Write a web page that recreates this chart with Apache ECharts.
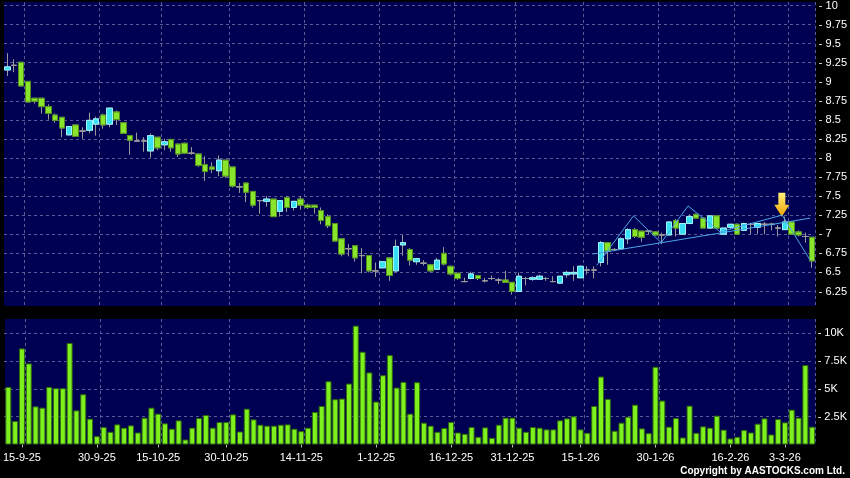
<!DOCTYPE html>
<html><head><meta charset="utf-8">
<script src="https://cdn.jsdelivr.net/npm/echarts@6/dist/echarts.min.js"></script>
<style>html,body{margin:0;padding:0;background:#000;}#c{width:850px;height:478px;}</style>
</head><body><div id="c"></div>
<script>
const dates = [
'11-9-25','12-9-25','15-9-25','16-9-25','17-9-25','18-9-25','19-9-25','22-9-25','23-9-25','24-9-25','25-9-25','26-9-25','29-9-25','30-9-25',
'2-10-25','3-10-25','6-10-25','8-10-25','9-10-25','10-10-25','13-10-25','14-10-25','15-10-25','16-10-25','17-10-25','20-10-25','21-10-25','22-10-25','23-10-25','24-10-25','27-10-25','28-10-25','30-10-25','31-10-25',
'3-11-25','4-11-25','5-11-25','6-11-25','7-11-25','10-11-25','11-11-25','12-11-25','13-11-25','14-11-25','17-11-25','18-11-25','19-11-25','20-11-25','21-11-25','24-11-25','25-11-25','26-11-25','27-11-25','28-11-25',
'1-12-25','2-12-25','3-12-25','4-12-25','5-12-25','8-12-25','9-12-25','10-12-25','11-12-25','12-12-25','15-12-25','16-12-25','17-12-25','18-12-25','19-12-25','22-12-25','23-12-25','24-12-25','29-12-25','30-12-25','31-12-25',
'2-1-26','5-1-26','6-1-26','7-1-26','8-1-26','9-1-26','12-1-26','13-1-26','14-1-26','15-1-26','16-1-26','19-1-26','20-1-26','21-1-26','22-1-26','23-1-26','26-1-26','27-1-26','28-1-26','29-1-26','30-1-26',
'2-2-26','3-2-26','4-2-26','5-2-26','6-2-26','9-2-26','10-2-26','11-2-26','12-2-26','13-2-26','16-2-26','20-2-26','23-2-26','24-2-26','25-2-26','26-2-26','27-2-26',
'2-3-26','3-3-26','4-3-26','5-3-26','6-3-26','9-3-26'];

const labelDates = ['15-9-25','30-9-25','15-10-25','30-10-25','14-11-25','1-12-25','16-12-25','31-12-25','15-1-26','30-1-26','16-2-26','3-3-26'];

const openP = [9.15,9.21,9.25,9.00,8.78,8.78,8.67,8.56,8.53,8.30,
8.43,8.35,8.36,8.44,8.56,8.44,8.60,8.46,8.29,8.22,
8.22,8.09,8.27,8.17,8.24,8.18,8.19,8.06,8.05,7.91,
7.88,7.83,7.97,7.88,7.62,7.67,7.56,7.44,7.43,7.46,
7.30,7.48,7.35,7.46,7.38,7.38,7.31,7.23,7.14,6.94,
6.81,6.85,6.72,6.72,6.52,6.56,6.69,6.52,6.86,6.80,
6.64,6.62,6.60,6.54,6.75,6.58,6.49,6.38,6.42,6.46,
6.39,6.42,6.40,6.40,6.37,6.25,6.42,6.41,6.41,6.42,
6.38,6.36,6.47,6.48,6.43,6.53,6.53,6.63,6.89,6.80,
6.81,6.94,7.06,7.04,7.04,7.03,6.99,6.99,7.18,7.00,
7.14,7.26,7.21,7.08,7.24,7.00,7.09,7.13,7.05,7.13,
7.09,7.13,7.13,7.08,7.06,7.16,7.03,6.97,6.96];

const highP = [9.37,9.29,9.25,9.00,8.78,8.78,8.70,8.58,8.53,8.41,
8.43,8.40,8.59,8.54,8.58,8.65,8.62,8.46,8.29,8.33,
8.27,8.32,8.27,8.25,8.25,8.18,8.20,8.14,8.05,8.02,
7.94,8.03,7.97,7.88,7.67,7.67,7.56,7.45,7.50,7.46,
7.44,7.50,7.43,7.50,7.40,7.38,7.35,7.26,7.14,6.94,
6.87,6.85,6.82,6.72,6.63,6.64,6.69,6.93,6.99,6.82,
6.69,6.66,6.61,6.69,6.83,6.59,6.49,6.43,6.51,6.46,
6.43,6.46,6.43,6.52,6.37,6.50,6.44,6.45,6.47,6.44,
6.45,6.45,6.52,6.58,6.59,6.58,6.58,6.91,6.89,6.82,
6.96,7.08,7.08,7.04,7.05,7.04,7.02,7.16,7.20,7.14,
7.26,7.27,7.21,7.24,7.24,7.08,7.13,7.14,7.15,7.15,
7.15,7.16,7.15,7.12,7.23,7.16,7.05,7.02,6.96];

const lowP = [9.07,9.12,8.94,8.73,8.71,8.58,8.50,8.46,8.27,8.30,
8.28,8.25,8.32,8.29,8.38,8.40,8.43,8.32,8.04,8.21,
8.08,8.00,8.10,8.10,8.08,8.01,8.05,8.04,7.88,7.70,
7.80,7.76,7.74,7.61,7.54,7.42,7.35,7.27,7.36,7.23,
7.23,7.29,7.31,7.32,7.33,7.27,7.13,7.08,6.91,6.71,
6.71,6.64,6.49,6.50,6.44,6.56,6.39,6.50,6.72,6.59,
6.60,6.59,6.50,6.54,6.59,6.46,6.40,6.37,6.41,6.40,
6.37,6.40,6.35,6.37,6.21,6.25,6.33,6.39,6.40,6.39,
6.37,6.35,6.43,6.39,6.43,6.47,6.42,6.58,6.60,6.78,
6.80,6.87,6.95,6.90,7.00,6.98,6.87,6.99,6.97,7.00,
7.13,7.21,7.08,7.08,7.08,6.99,7.07,7.00,7.04,7.00,
7.00,7.00,7.05,6.97,7.06,7.00,6.97,6.89,6.56];

const closeP = [9.19,9.21,8.94,8.73,8.74,8.67,8.58,8.49,8.39,8.41,
8.28,8.35,8.49,8.51,8.43,8.65,8.50,8.32,8.23,8.22,
8.22,8.29,8.13,8.21,8.13,8.05,8.06,8.06,7.90,7.82,
7.85,7.97,7.76,7.63,7.62,7.55,7.38,7.44,7.46,7.23,
7.44,7.35,7.43,7.38,7.35,7.35,7.18,7.11,6.91,6.74,
6.81,6.69,6.72,6.52,6.52,6.64,6.46,6.84,6.89,6.66,
6.68,6.62,6.52,6.66,6.61,6.48,6.42,6.38,6.48,6.42,
6.39,6.42,6.40,6.37,6.25,6.45,6.42,6.43,6.45,6.42,
6.38,6.45,6.50,6.50,6.58,6.53,6.53,6.89,6.78,6.80,
6.94,7.06,6.97,6.96,7.04,6.99,6.99,7.16,7.08,7.14,
7.23,7.21,7.08,7.24,7.08,7.08,7.13,7.00,7.14,7.13,
7.14,7.13,7.13,7.08,7.16,7.00,6.99,6.97,6.65];

const volumeK = [5.18,2.11,8.64,7.29,3.43,3.31,5.18,5.06,5.06,9.13,3.07,4.52,2.32,0.75,1.57,1.14,1.81,1.51,1.72,1.08,
2.41,3.31,2.77,1.90,1.42,2.17,0.45,1.51,2.38,2.65,1.51,2.02,2.02,2.71,1.17,3.22,2.26,1.78,1.69,1.69,1.78,
1.81,1.42,1.20,1.51,2.92,3.46,5.69,4.07,4.13,5.48,10.69,8.34,6.48,3.86,6.23,8.04,5.12,5.63,2.77,5.60,
1.96,1.69,1.14,1.48,2.02,1.08,0.96,1.57,0.69,1.54,0.60,1.78,2.41,2.41,1.51,1.14,1.57,1.51,1.36,1.36,2.17,
2.35,2.53,1.36,1.05,3.46,6.11,4.10,1.23,1.96,2.50,3.58,1.45,1.02,6.99,3.95,1.60,2.38,0.63,3.49,1.05,
1.63,1.51,2.59,1.33,0.54,0.69,1.30,1.08,1.87,2.35,0.90,2.29,1.99,3.13,2.41,7.14,1.60];

// pattern lines (category index position, price)
const supportIdx = [85.8, 117.7];
const supportPrice = [6.74, 7.21];
const zigIdx = [86.4, 91.8, 95.85, 99.8, 104.5, 113.6, 117.7];
const zigPrice = [6.59, 7.24, 6.89, 7.37, 7.03, 7.25, 6.66];
const arrowIdx = [113.55];
const arrowPrice = [7.23];

const FONT = '"Liberation Sans", Arial, sans-serif';
const NAVY = '#000052';
const GRIDC = '#5a5a96';
const GRAY = '#9a9a9a';
const N = dates.length;
const labelIdx = new Set(labelDates.map(d => dates.indexOf(d)));

// layout
const L = 4, W = 811.6;
const pTop = 2, pBot = 306, p10 = 5, p625 = 291.5;
const ppu = (p625 - p10) / 3.75;
const vTop = 319, vBase = 444.5, v10k = 333.3;
const ppv = (vBase - v10k) / 10000;

const wickData = dates.map((d, i) => [openP[i], closeP[i], lowP[i], highP[i]]);
const bodyData = dates.map((d, i) => {
  const o = openP[i], c = closeP[i];
  const v = [o, c, Math.min(o, c), Math.max(o, c)];
  return o === c ? { value: v, itemStyle: { borderColor: GRAY, borderColor0: GRAY } } : v;
});

const chart = echarts.init(document.getElementById('c'));
chart.setOption({
  animation: false,
  backgroundColor: '#000000',
  grid: [
    { left: L, width: W, top: pTop, height: pBot - pTop, show: true, backgroundColor: NAVY, borderWidth: 0 },
    { left: L, width: W, top: p10, height: p625 - p10, show: false },
    { left: L, width: W, top: vTop, height: vBase - vTop, show: true, backgroundColor: NAVY, borderWidth: 0 },
    { left: L, width: W, top: v10k, height: (vBase - v10k) * 0.75, show: false }
  ],
  xAxis: [
    { type: 'category', gridIndex: 0, data: dates, axisLine: { show: false }, axisTick: { show: false }, axisLabel: { show: false },
      splitLine: { show: true, interval: (idx) => labelIdx.has(idx - 1), lineStyle: { color: GRIDC, type: [3, 3], width: 1 } } },
    { type: 'category', gridIndex: 1, data: dates, show: false },
    { type: 'category', gridIndex: 2, data: dates, axisLine: { show: false },
      axisTick: { show: true, alignWithLabel: true, interval: (idx) => labelIdx.has(idx), length: 3, lineStyle: { color: '#bbbbbb' } },
      axisLabel: { show: true, interval: (idx) => labelIdx.has(idx), color: '#ffffff', fontSize: 11, fontFamily: FONT, margin: 8 },
      splitLine: { show: true, interval: (idx) => labelIdx.has(idx - 1), lineStyle: { color: GRIDC, type: [3, 3], width: 1 } } },
    { type: 'category', gridIndex: 3, data: dates, show: false },
    { type: 'value', gridIndex: 0, min: -0.5, max: N - 0.5, show: false }
  ],
  yAxis: [
    { type: 'value', gridIndex: 0, min: 6.25 - (pBot - p625) / ppu, max: 10 + (p10 - pTop) / ppu, show: false },
    { type: 'value', gridIndex: 1, position: 'right', min: 6.25, max: 10, interval: 0.25,
      axisLine: { show: false }, axisTick: { show: false },
      axisLabel: { color: '#ffffff', fontSize: 11, fontFamily: FONT, margin: 4.4, formatter: (v) => '- ' + v },
      splitLine: { show: true, lineStyle: { color: GRIDC, type: [3, 3], width: 1 } } },
    { type: 'value', gridIndex: 2, min: 0, max: (vBase - vTop) / ppv, show: false },
    { type: 'value', gridIndex: 3, position: 'right', min: 2500, max: 10000, interval: 2500,
      axisLine: { show: false }, axisTick: { show: false },
      axisLabel: { color: '#ffffff', fontSize: 11, fontFamily: FONT, margin: 4.4, formatter: (v) => '- ' + (v / 1000) + 'K' },
      splitLine: { show: true, lineStyle: { color: GRIDC, type: [3, 3], width: 1 } } }
  ],
  series: [
    { type: 'candlestick', xAxisIndex: 0, yAxisIndex: 0, barWidth: 6, data: wickData,
      itemStyle: { color: 'rgba(0,0,0,0)', color0: 'rgba(0,0,0,0)', borderColor: GRAY, borderColor0: GRAY, borderWidth: 1 } },
    { type: 'candlestick', xAxisIndex: 0, yAxisIndex: 0, barWidth: 6, data: bodyData,
      itemStyle: { color: '#38def2', color0: '#88e52c', borderColor: '#9ef5ff', borderColor0: '#4f8f1c', borderWidth: 1 } },
    { type: 'line', xAxisIndex: 4, yAxisIndex: 0, symbol: 'none', silent: true,
      data: supportIdx.map((x, i) => [x, supportPrice[i]]), lineStyle: { color: '#4aa6e6', width: 1 } },
    { type: 'line', xAxisIndex: 4, yAxisIndex: 0, symbol: 'none', silent: true,
      data: zigIdx.map((x, i) => [x, zigPrice[i]]), lineStyle: { color: '#4aa6e6', width: 1 } },
    { type: 'scatter', xAxisIndex: 4, yAxisIndex: 0, silent: true,
      data: arrowIdx.map((x, i) => [x, arrowPrice[i]]),
      symbol: 'path://M4,0L11,0L11,12L15,12L7.5,24L0,12L4,12Z', symbolSize: [15, 24], symbolOffset: [0, -12],
      itemStyle: { color: new echarts.graphic.LinearGradient(0, 0, 0, 1, [{ offset: 0, color: '#fff07a' }, { offset: 1, color: '#f0a000' }]), opacity: 1 } },
    { type: 'bar', xAxisIndex: 2, yAxisIndex: 2, barWidth: 6, data: volumeK.map(v => v * 1000),
      itemStyle: { color: '#7ef01e', borderColor: '#2f6a0e', borderWidth: 1 } }
  ],
  graphic: [
    { type: 'text', right: 5, top: 466, style: { text: 'Copyright by AASTOCKS.com Ltd.', fill: '#ffffff', font: 'bold 10px ' + FONT } }
  ]
});
</script></body></html>
